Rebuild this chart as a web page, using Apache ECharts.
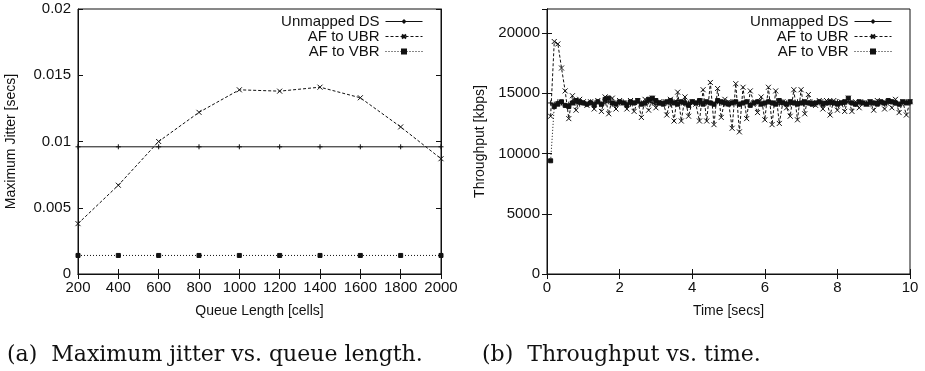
<!DOCTYPE html>
<html>
<head>
<meta charset="utf-8">
<script src="https://cdn.jsdelivr.net/npm/echarts@6/dist/echarts.min.js"></script>
<style>
  html, body { margin: 0; padding: 0; background: #fff; }
  #chart { width: 925px; height: 371px; }
</style>
</head>
<body>
<div id="chart"></div>
<script>
// (a) jitter vs queue length
const queueLen = [200, 400, 600, 800, 1000, 1200, 1400, 1600, 1800, 2000]
const jitterUnmapped = [0.0096, 0.0096, 0.0096, 0.0096, 0.0096, 0.0096, 0.0096, 0.0096, 0.0096, 0.0096]
const jitterUBR = [0.0038, 0.0067, 0.0100, 0.0122, 0.0139, 0.0138, 0.0141, 0.0133, 0.0111, 0.0087]
const jitterVBR = [0.0014, 0.0014, 0.0014, 0.0014, 0.0014, 0.0014, 0.0014, 0.0014, 0.0014, 0.0014]

// (b) throughput vs time
const times = [
  0.1, 0.2, 0.3, 0.4, 0.5, 0.6, 0.7, 0.8, 0.9, 1.0,
  1.1, 1.2, 1.3, 1.4, 1.5, 1.6, 1.7, 1.8, 1.9, 2.0,
  2.1, 2.2, 2.3, 2.4, 2.5, 2.6, 2.7, 2.8, 2.9, 3.0,
  3.1, 3.2, 3.3, 3.4, 3.5, 3.6, 3.7, 3.8, 3.9, 4.0,
  4.1, 4.2, 4.3, 4.4, 4.5, 4.6, 4.7, 4.8, 4.9, 5.0,
  5.1, 5.2, 5.3, 5.4, 5.5, 5.6, 5.7, 5.8, 5.9, 6.0,
  6.1, 6.2, 6.3, 6.4, 6.5, 6.6, 6.7, 6.8, 6.9, 7.0,
  7.1, 7.2, 7.3, 7.4, 7.5, 7.6, 7.7, 7.8, 7.9, 8.0,
  8.1, 8.2, 8.3, 8.4, 8.5, 8.6, 8.7, 8.8, 8.9, 9.0,
  9.1, 9.2, 9.3, 9.4, 9.5, 9.6, 9.7, 9.8, 9.9, 10.0
]
const tputUnmapped = [
  14200, 14100, 14300, 14200, 14000, 14100, 14300, 14200, 14100, 14200,
  14100, 14300, 14200, 14300, 14100, 14200, 14300, 14100, 14200, 14200,
  14300, 14200, 14100, 14200, 14300, 14200, 14100, 14300, 14200, 14100,
  14200, 14300, 14200, 14100, 14300, 14400, 14200, 14100, 14200, 14300,
  14200, 14100, 14300, 14200, 14200, 14100, 14300, 14200, 14100, 14200,
  14300, 14200, 14100, 14200, 14300, 14100, 14200, 14300, 14200, 14100,
  14300, 14200, 14200, 14100, 14300, 14200, 14100, 14200, 14300, 14200,
  14100, 14200, 14300, 14100, 14200, 14300, 14200, 14100, 14200, 14300,
  14200, 14100, 14300, 14200, 14100, 14200, 14300, 14200, 14100, 14200,
  14300, 14200, 14100, 14200, 14300, 14200, 14100, 14200, 14300, 14200
]
const tputUBR = [
  13100, 19300, 19100, 17100, 15200, 12900, 14800, 13600, 14500, 14300,
  14000, 14300, 13700, 14400, 13500, 14700, 13300, 14600, 13700, 14400,
  14200, 13700, 14400, 13500, 14400, 13000, 14500, 13600, 14600, 13800,
  14300, 14200, 13200, 14500, 12700, 15100, 12700, 14700, 13100, 14300,
  14100, 12700, 15300, 12700, 15900, 12400, 15400, 13000, 14500, 14300,
  12100, 15800, 11800, 15500, 12900, 15200, 14200, 13400, 14700, 12800,
  15500, 12400, 15200, 12500, 14300, 13800, 13100, 15300, 12800, 15300,
  13300, 14900, 14200, 14000, 14400, 13700, 14400, 13200, 14400, 13600,
  14300, 13500, 14600, 13500, 14300, 13800, 14200, 14100, 14300, 13600,
  14400, 14200, 13700, 14300, 13800, 14500, 13400, 14300, 13200, 14300
]
const tputVBR = [
  9400, 13900, 14100, 14300, 14000, 13900, 14200, 14400, 14300, 14200,
  14100, 14200, 14000, 14300, 14100, 14500, 14600, 14200, 14100, 14300,
  14200, 14000, 14300, 14200, 14400, 14100, 14200, 14500, 14600, 14400,
  14200, 14100, 14300, 14400, 14200, 14100, 14300, 14200, 14000, 14300,
  14200, 14400, 14100, 14300, 14200, 14100, 14400, 14300, 14200, 14100,
  14200, 14300, 14100, 14200, 14300, 14000, 14200, 14300, 14100, 14200,
  14300, 14200, 14100, 14400, 14200, 14100, 14300, 14200, 14100, 14200,
  14300, 14200, 14100, 14200, 14300, 14100, 14200, 14300, 14200, 14100,
  14200, 14300, 14600, 14200, 14100, 14300, 14200, 14100, 14300, 14200,
  14100, 14300, 14200, 14400, 14300, 14200, 14100, 14300, 14200, 14300
]

const seriesNames = ['Unmapped DS', 'AF to UBR', 'AF to VBR']

const PLUS = 'path://M0,5L10,5M5,0L5,10'
const CROSS = 'path://M0,0L10,10M10,0L0,10'
const FONT = 'Liberation Sans'
const INK = '#111'

const pair = (xs, ys) => xs.map((x, i) => [x, ys[i]])
const plain = (v) => String(v)

const lineSeries = (name, idx, data, opts) => ({
  name,
  type: 'line',
  xAxisIndex: idx,
  yAxisIndex: idx,
  data,
  symbol: opts.symbol,
  symbolSize: opts.size,
  showAllSymbol: true,
  animation: false,
  itemStyle: { color: INK, borderColor: INK, borderWidth: 1 },
  lineStyle: { color: INK, width: 1, type: opts.dash },
  emphasis: { disabled: true },
})

const mainX = (idx, min, max, interval, name) => ({
  type: 'value', gridIndex: idx, min, max, interval,
  name, nameLocation: 'middle', nameGap: 30,
  nameTextStyle: { fontFamily: FONT, fontSize: 14, color: INK },
  axisLine: { lineStyle: { color: INK } },
  axisTick: { inside: true, length: 5, lineStyle: { color: INK } },
  axisLabel: { fontFamily: FONT, fontSize: 15, color: INK, margin: 6, formatter: plain },
  splitLine: { show: false },
})
const mainY = (idx, min, max, interval, name, gap, opts) => ({
  type: 'value', gridIndex: idx, min, max, interval,
  name, nameLocation: 'middle', nameGap: gap,
  nameTextStyle: { fontFamily: FONT, fontSize: 14, color: INK },
  axisLine: { show: true, lineStyle: { color: INK } },
  axisTick: { show: true, inside: true, length: 5, lineStyle: { color: INK } },
  axisLabel: Object.assign({ fontFamily: FONT, fontSize: 15, color: INK, margin: 7, formatter: plain }, opts || {}),
  splitLine: { show: false },
})
// mirrored ticks on top/right like gnuplot's border
const mirrorX = (idx, min, max, interval) => ({
  type: 'value', gridIndex: idx, min, max, interval, position: 'top',
  axisLine: { lineStyle: { color: INK } },
  axisTick: { inside: true, length: 5, lineStyle: { color: INK } },
  axisLabel: { show: false }, splitLine: { show: false },
})
const mirrorY = (idx, min, max, interval) => ({
  type: 'value', gridIndex: idx, min, max, interval, position: 'right',
  axisLine: { show: true, lineStyle: { color: INK } },
  axisTick: { show: true, inside: true, length: 5, lineStyle: { color: INK } },
  axisLabel: { show: false }, splitLine: { show: false },
})

const legendFor = (right) => ({
  data: seriesNames,
  orient: 'vertical',
  right,
  top: 14,
  padding: 0,
  align: 'right',
  itemWidth: 37,
  itemHeight: 5,
  itemGap: 0,
  selectedMode: false,
  lineStyle: { width: 1 },
  textStyle: { fontFamily: FONT, fontSize: 15, color: INK, lineHeight: 14, padding: [0, 1, 0, 0] },
})

const myChart = echarts.init(document.getElementById('chart'))
const option = {
  backgroundColor: '#fff',
  animation: false,
  grid: [
    { left: 78, right: 484, top: 9, bottom: 97, show: true, borderColor: INK, borderWidth: 1 },
    { left: 547, right: 15, top: 9, bottom: 97, show: true, borderColor: INK, borderWidth: 1 },
  ],
  legend: [legendFor(502), legendFor(33)],
  xAxis: [
    mainX(0, 200, 2000, 200, 'Queue Length [cells]'),
    mainX(1, 0, 10, 2, 'Time [secs]'),
    mirrorX(0, 200, 2000, 200),
    mirrorX(1, 0, 10, 2),
  ],
  yAxis: [
    mainY(0, 0, 0.02, 0.005, 'Maximum Jitter [secs]', 60),
    mainY(1, 0, 22000, 5000, 'Throughput [kbps]', 60, { showMaxLabel: false }),
    mirrorY(0, 0, 0.02, 0.005),
    mirrorY(1, 0, 22000, 5000),
  ],
  series: [
    lineSeries(seriesNames[0], 0, pair(queueLen, jitterUnmapped), { symbol: PLUS, size: 5, dash: 'solid' }),
    lineSeries(seriesNames[1], 0, pair(queueLen, jitterUBR), { symbol: CROSS, size: 5, dash: [3, 2] }),
    lineSeries(seriesNames[2], 0, pair(queueLen, jitterVBR), { symbol: 'rect', size: 4, dash: [1, 2] }),
    lineSeries(seriesNames[0], 1, pair(times, tputUnmapped), { symbol: PLUS, size: 5, dash: 'solid' }),
    lineSeries(seriesNames[1], 1, pair(times, tputUBR), { symbol: CROSS, size: 5, dash: [3, 2] }),
    lineSeries(seriesNames[2], 1, pair(times, tputVBR), { symbol: 'rect', size: 4, dash: [1, 2] }),
  ],
  graphic: [
    { type: 'text', left: 7, top: 344, style: { text: '(a)  Maximum jitter vs. queue length.', font: '22px "DejaVu Serif"', fill: '#111' } },
    { type: 'text', left: 482, top: 344, style: { text: '(b)  Throughput vs. time.', font: '22px "DejaVu Serif"', fill: '#111' } },
  ],
}
myChart.setOption(option)
</script>
</body>
</html>
